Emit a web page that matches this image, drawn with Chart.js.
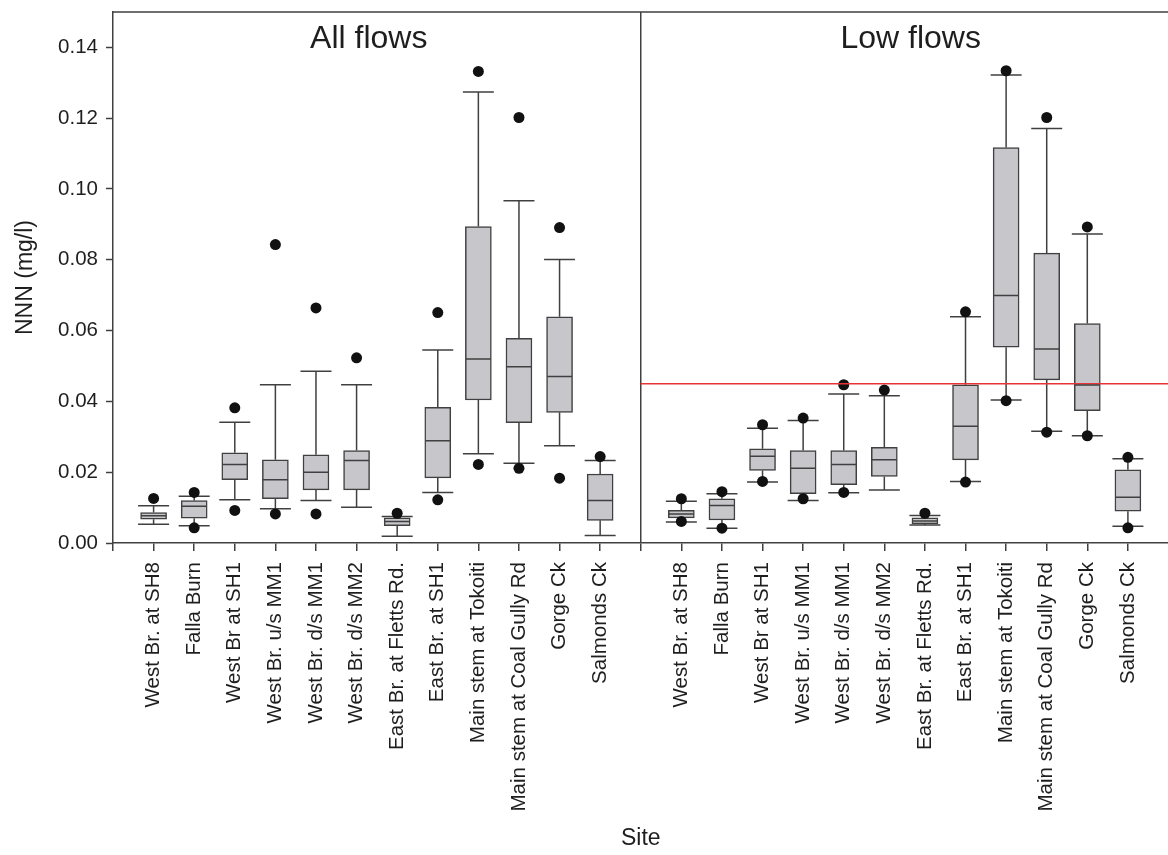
<!DOCTYPE html>
<html>
<head>
<meta charset="utf-8">
<title>NNN por local</title>
<script src="https://cdn.jsdelivr.net/npm/chart.js@4.4.1/dist/chart.umd.min.js"></script>
<style>
    html, body {
        margin: 0;
        padding: 0;
        background: #ffffff;
        overflow: hidden;
    }

    #div_grafico {
        width: 1174px;
        height: 855px;
    }
</style>
</head>
<body>
<div id="div_grafico">
    <canvas id="myChartNNN"></canvas>
</div>

<script>
var sites = [
    'West Br. at SH8',
    'Falla Burn',
    'West Br at SH1',
    'West Br. u/s MM1',
    'West Br. d/s MM1',
    'West Br. d/s MM2',
    'East Br. at Fletts Rd.',
    'East Br. at SH1',
    'Main stem at Tokoiti',
    'Main stem at Coal Gully Rd',
    'Gorge Ck',
    'Salmonds Ck'
]

// All flows
var allMinimo = [0.0053, 0.0049, 0.0122, 0.0097, 0.0120, 0.0101, 0.0019, 0.0143, 0.0252, 0.0225, 0.0275, 0.0021]
var allQ1 = [0.0067, 0.0070, 0.0179, 0.0125, 0.0150, 0.0150, 0.0049, 0.0184, 0.0404, 0.0340, 0.0369, 0.0064]
var allMediana = [0.0077, 0.0104, 0.0222, 0.0179, 0.0200, 0.0233, 0.0061, 0.0289, 0.0520, 0.0498, 0.0470, 0.0120]
var allQ3 = [0.0086, 0.0120, 0.0255, 0.0235, 0.0249, 0.0261, 0.0071, 0.0383, 0.0894, 0.0578, 0.0639, 0.0195]
var allMaximo = [0.0105, 0.0132, 0.0341, 0.0447, 0.0485, 0.0447, 0.0075, 0.0545, 0.1274, 0.0967, 0.0801, 0.0233]
var allPontoAlto = [0.0126, 0.0143, 0.0382, 0.0843, 0.0664, 0.0523, 0.0084, 0.0651, 0.1332, 0.1202, 0.0891, 0.0244]
var allPontoBaixo = [null, 0.0043, 0.0092, 0.0082, 0.0082, null, null, 0.0122, 0.0222, 0.0211, 0.0183, null]

// Low flows
var lowMinimo = [0.0059, 0.0042, 0.0172, 0.0120, 0.0142, 0.0150, 0.0051, 0.0174, 0.0404, 0.0316, 0.0303, 0.0047]
var lowQ1 = [0.0071, 0.0065, 0.0205, 0.0139, 0.0165, 0.0188, 0.0054, 0.0235, 0.0553, 0.0461, 0.0374, 0.0090]
var lowMediana = [0.0082, 0.0106, 0.0245, 0.0211, 0.0222, 0.0235, 0.0062, 0.0330, 0.0699, 0.0548, 0.0446, 0.0129]
var lowQ3 = [0.0092, 0.0125, 0.0266, 0.0261, 0.0261, 0.0270, 0.0071, 0.0447, 0.1117, 0.0819, 0.0620, 0.0207]
var lowMaximo = [0.0118, 0.0139, 0.0324, 0.0346, 0.0421, 0.0416, 0.0078, 0.0639, 0.1322, 0.1171, 0.0873, 0.0238]
var lowPontoAlto = [0.0125, 0.0145, 0.0334, 0.0353, 0.0447, 0.0432, 0.0084, 0.0653, 0.1334, 0.1202, 0.0893, 0.0242]
var lowPontoBaixo = [0.0061, 0.0042, 0.0174, 0.0125, 0.0143, null, null, 0.0172, 0.0402, 0.0313, 0.0303, 0.0043]

var titulosPaineis = ['All flows', 'Low flows']
var limiteNNN = 0.045
var ticksY = [0, 0.02, 0.04, 0.06, 0.08, 0.10, 0.12, 0.14]

var corLinha = '#404040'
var corTexto = '#1e1e1e'
var fonte = "'Liberation Sans', Arial, Helvetica, sans-serif"

// painel da esquerda ocupa 1..12, divisória em 13, painel da direita 14..25
var caixas = []
var pontos = []

function montarPainel(inicio, minimo, q1, mediana, q3, maximo, alto, baixo) {
    for (var i = 0; i < sites.length; i++) {
        var posicao = inicio + i
        caixas.push({
            x: posicao,
            min: minimo[i],
            q1: q1[i],
            med: mediana[i],
            q3: q3[i],
            max: maximo[i]
        })
        if (alto[i] != null) pontos.push({ x: posicao, y: alto[i] })
        if (baixo[i] != null) pontos.push({ x: posicao, y: baixo[i] })
    }
}

montarPainel(1, allMinimo, allQ1, allMediana, allQ3, allMaximo, allPontoAlto, allPontoBaixo)
montarPainel(14, lowMinimo, lowQ1, lowMediana, lowQ3, lowMaximo, lowPontoAlto, lowPontoBaixo)

function rotuloX(valor) {
    if (valor >= 1 && valor <= 12) return sites[valor - 1]
    if (valor >= 14 && valor <= 25) return sites[valor - 14]
    return ''
}

// bigodes, tampas, medianas, moldura de cima e títulos dos painéis
const pluginCaixas = {
    id: 'pluginCaixas',
    beforeDatasetsDraw(chart) {
        const ctx = chart.ctx
        const x = chart.scales.x
        const y = chart.scales.y
        ctx.save()
        ctx.strokeStyle = corLinha
        ctx.lineWidth = 1.5
        ctx.beginPath()
        caixas.forEach(c => {
            const px = x.getPixelForValue(c.x)
            const yMin = y.getPixelForValue(c.min)
            const yMax = y.getPixelForValue(c.max)
            ctx.moveTo(px, yMin)
            ctx.lineTo(px, y.getPixelForValue(c.q1))
            ctx.moveTo(px, y.getPixelForValue(c.q3))
            ctx.lineTo(px, yMax)
            ctx.moveTo(px - 15.5, yMin)
            ctx.lineTo(px + 15.5, yMin)
            ctx.moveTo(px - 15.5, yMax)
            ctx.lineTo(px + 15.5, yMax)
        })
        ctx.stroke()
        ctx.restore()
    },
    afterDatasetsDraw(chart) {
        const ctx = chart.ctx
        const x = chart.scales.x
        const y = chart.scales.y
        const area = chart.chartArea
        ctx.save()
        ctx.strokeStyle = corLinha
        ctx.lineWidth = 1.5
        ctx.beginPath()
        caixas.forEach(c => {
            const px = x.getPixelForValue(c.x)
            const py = y.getPixelForValue(c.med)
            ctx.moveTo(px - 12.5, py)
            ctx.lineTo(px + 12.5, py)
        })
        ctx.moveTo(area.left, area.top)
        ctx.lineTo(area.right, area.top)
        ctx.stroke()

        ctx.fillStyle = corTexto
        ctx.font = '32px ' + fonte
        ctx.textAlign = 'center'
        ctx.textBaseline = 'alphabetic'
        ctx.fillText(titulosPaineis[0], x.getPixelForValue(6.3), area.top + 36)
        ctx.fillText(titulosPaineis[1], x.getPixelForValue(19.65), area.top + 36)
        ctx.restore()
    }
}

const dataNNN = {
    datasets: [
        {
            type: 'line',
            label: 'Limite',
            data: [{ x: 13, y: limiteNNN }, { x: 26, y: limiteNNN }],
            borderColor: 'rgb(232, 52, 52)',
            borderWidth: 1.5,
            pointRadius: 0,
            order: 0
        },
        {
            type: 'line',
            label: 'Extremos',
            data: pontos,
            showLine: false,
            pointRadius: 5.5,
            pointBackgroundColor: '#111111',
            pointBorderWidth: 0,
            order: 1
        },
        {
            type: 'bar',
            label: 'Quartis',
            data: caixas.map(c => ({ x: c.x, y: [c.q1, c.q3] })),
            backgroundColor: '#c6c6cb',
            borderColor: corLinha,
            borderWidth: 1.5,
            borderSkipped: false,
            barThickness: 26,
            order: 2
        }
    ]
}

const configNNN = {
    type: 'bar',
    data: dataNNN,
    plugins: [pluginCaixas],
    options: {
        responsive: true,
        maintainAspectRatio: false,
        animation: false,
        events: [],
        layout: {
            padding: { top: 12, right: 0, bottom: 0, left: 0 }
        },
        plugins: {
            legend: { display: false },
            tooltip: { enabled: false }
        },
        scales: {
            x: {
                type: 'linear',
                min: 0,
                max: 26,
                offset: false,
                afterBuildTicks: function (escala) {
                    var lista = []
                    for (var v = 0; v <= 25; v++) lista.push({ value: v })
                    escala.ticks = lista
                },
                afterFit: function (escala) {
                    escala.height = 312
                    escala.paddingLeft = 0
                    escala.paddingRight = 0
                },
                ticks: {
                    autoSkip: false,
                    minRotation: 90,
                    maxRotation: 90,
                    padding: 11,
                    color: corTexto,
                    font: { family: fonte, size: 20.5 },
                    callback: function (valor) {
                        return rotuloX(valor)
                    }
                },
                grid: {
                    offset: false,
                    drawOnChartArea: true,
                    color: function (context) {
                        return context.tick && context.tick.value === 13 ? corLinha : 'rgba(0,0,0,0)'
                    },
                    lineWidth: 1.5,
                    tickColor: corLinha,
                    tickWidth: 1.5,
                    tickLength: 8
                },
                border: { color: corLinha, width: 1.5 },
                title: {
                    display: true,
                    text: 'Site',
                    color: corTexto,
                    font: { family: fonte, size: 23 },
                    padding: { top: 4, bottom: 3 }
                }
            },
            y: {
                min: 0,
                max: 0.15,
                afterBuildTicks: function (escala) {
                    escala.ticks = ticksY.map(v => ({ value: v }))
                },
                afterFit: function (escala) {
                    escala.width = 113
                    escala.paddingTop = 0
                    escala.paddingBottom = 0
                },
                ticks: {
                    padding: 8,
                    color: corTexto,
                    font: { family: fonte, size: 20.5 },
                    callback: function (valor) {
                        return valor.toFixed(2)
                    }
                },
                grid: {
                    drawOnChartArea: false,
                    tickColor: corLinha,
                    tickWidth: 1.5,
                    tickLength: 7
                },
                border: { color: corLinha, width: 1.5 },
                title: {
                    display: true,
                    text: 'NNN (mg/l)',
                    color: corTexto,
                    font: { family: fonte, size: 23 },
                    padding: { top: 12, bottom: 4 }
                }
            }
        }
    }
}

const myChartNNN = new Chart(
    document.getElementById('myChartNNN'),
    configNNN
)
</script>
</body>
</html>
